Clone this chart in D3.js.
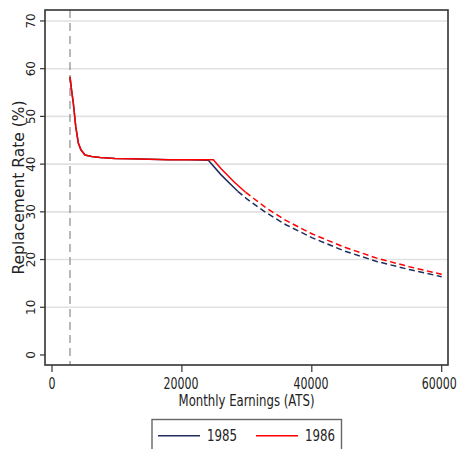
<!DOCTYPE html>
<html>
<head>
<meta charset="utf-8">
<script src="https://cdn.jsdelivr.net/npm/d3@7"></script>
<style>
  html, body { margin: 0; padding: 0; background: #fff; }
  svg { display: block; }
</style>
</head>
<body>
<svg id="chart" width="459" height="449"></svg>
<script>
// ---- data ----
const seriesNames = ["1985", "1986"];
const earnings1985 = [2770, 3000, 3280, 3650, 4050, 4450, 5080, 6100, 7400, 9700, 12000, 15000, 18000, 21000, 24070, 26000, 28000, 28600, 30000, 33000, 36000, 40000, 45000, 50000, 55000, 60000];
const rate1985     = [58.3, 55.6, 52.8, 47.9, 44.4, 43.0, 41.9, 41.6, 41.4, 41.2, 41.1, 41.0, 40.9, 40.9, 40.8, 37.8, 35.1, 34.3, 32.7, 29.8, 27.3, 24.6, 21.8, 19.6, 17.9, 16.4];
const earnings1986 = [2770, 3000, 3280, 3650, 4050, 4450, 5080, 6100, 7400, 9700, 12000, 15000, 18000, 21000, 24840, 26000, 28000, 29800, 30000, 33000, 36000, 40000, 45000, 50000, 55000, 60000];
const rate1986     = [58.3, 55.6, 52.8, 47.9, 44.4, 43.0, 41.9, 41.6, 41.4, 41.2, 41.1, 41.0, 40.9, 40.9, 40.9, 39.1, 36.3, 34.1, 33.9, 30.8, 28.2, 25.4, 22.6, 20.3, 18.5, 16.9];
const dashedFrom   = [28600, 29800];     // earnings beyond which each series is drawn dashed
const thresholdEarnings = 2770;           // vertical dashed reference line
const xTicks = [0, 20000, 40000, 60000];
const yTicks = [0, 10, 20, 30, 40, 50, 60, 70];
const xTitle = "Monthly Earnings (ATS)";
const yTitle = "Replacement Rate (%)";

// ---- layout ----
const colors = ["#1f2d5c", "#ff0000"];
const plot = { left: 45, right: 448, top: 10, bottom: 365 };
const svg = d3.select("#chart");
const narrowFont = "DejaVu Sans Condensed, DejaVu Sans, sans-serif";

const x = d3.scaleLinear().domain([-1080, 60970]).range([plot.left, plot.right]);
const y = d3.scaleLinear().domain([-2.1, 72.3]).range([plot.bottom, plot.top]);

// draws a horizontally-compressed text whose rendered width equals targetW
function narrowText(parent, str, cx, baseY, size, targetW, anchor) {
  const t = parent.append("text")
    .attr("font-family", narrowFont)
    .attr("font-stretch", "condensed")
    .attr("font-size", size)
    .attr("fill", "#222")
    .attr("text-anchor", anchor)
    .text(str);
  const natural = t.node().getComputedTextLength() || targetW;
  const sx = targetW / natural;
  t.attr("transform", `translate(${cx},${baseY}) scale(${sx},1)`);
  return t;
}

// gridlines
svg.append("g").selectAll("line")
  .data(yTicks.filter(d => d > 0))
  .join("line")
  .attr("x1", plot.left).attr("x2", plot.right)
  .attr("y1", d => y(d)).attr("y2", d => y(d))
  .attr("stroke", "#e1e1e1").attr("stroke-width", 1.6);

// threshold dashed line
svg.append("line")
  .attr("x1", x(thresholdEarnings)).attr("x2", x(thresholdEarnings))
  .attr("y1", plot.top).attr("y2", plot.bottom)
  .attr("stroke", "#808080").attr("stroke-width", 1.1)
  .attr("stroke-dasharray", "8,5");

// series
const series = [
  { name: seriesNames[0], xs: earnings1985, ys: rate1985, cut: dashedFrom[0], color: colors[0] },
  { name: seriesNames[1], xs: earnings1986, ys: rate1986, cut: dashedFrom[1], color: colors[1] }
];
const line = d3.line().x(d => x(d[0])).y(d => y(d[1]));
series.forEach(s => {
  const pts = s.xs.map((v, i) => [v, s.ys[i]]);
  const solid = pts.filter(p => p[0] <= s.cut);
  const dashed = pts.filter(p => p[0] >= s.cut);
  svg.append("path").datum(solid).attr("d", line)
    .attr("fill", "none").attr("stroke", s.color).attr("stroke-width", 1.5);
  svg.append("path").datum(dashed).attr("d", line)
    .attr("fill", "none").attr("stroke", s.color).attr("stroke-width", 1.5)
    .attr("stroke-dasharray", "6,3.5");
});

// frame
svg.append("rect")
  .attr("x", plot.left).attr("y", plot.top)
  .attr("width", plot.right - plot.left).attr("height", plot.bottom - plot.top)
  .attr("fill", "none").attr("stroke", "#333").attr("stroke-width", 1.6);

// y axis ticks + labels (rotated)
const yAxisG = svg.append("g");
yAxisG.selectAll("line").data(yTicks).join("line")
  .attr("x1", plot.left - 5).attr("x2", plot.left)
  .attr("y1", d => y(d)).attr("y2", d => y(d))
  .attr("stroke", "#333").attr("stroke-width", 1.2);
yAxisG.selectAll("text").data(yTicks).join("text")
  .attr("transform", d => `translate(35,${y(d)}) rotate(-90)`)
  .attr("text-anchor", "middle")
  .attr("font-family", "DejaVu Sans, sans-serif")
  .attr("font-size", 12)
  .attr("fill", "#222")
  .text(d => d);

// y title
svg.append("text")
  .attr("transform", `translate(23.5,${(plot.top + plot.bottom) / 2}) rotate(-90)`)
  .attr("text-anchor", "middle")
  .attr("font-family", "DejaVu Sans, sans-serif")
  .attr("font-size", 15.5)
  .attr("fill", "#222")
  .text(yTitle);

// x axis ticks + labels
const xAxisG = svg.append("g");
xAxisG.selectAll("line").data(xTicks).join("line")
  .attr("x1", d => x(d)).attr("x2", d => x(d))
  .attr("y1", plot.bottom).attr("y2", plot.bottom + 7)
  .attr("stroke", "#333").attr("stroke-width", 1.2);
const lastTick = xTicks[xTicks.length - 1];
xTicks.forEach(d => {
  const s = String(d);
  const cx = x(d) - (d === lastTick ? 2.5 : (s.length > 1 ? 0.8 : 0));
  narrowText(xAxisG, s, cx, 388.5, 15.5, s.length * 7.0, "middle");
});

// x title
narrowText(svg, xTitle, (plot.left + plot.right) / 2, 406, 15, 136, "middle");

// legend
const lg = svg.append("g");
lg.append("rect")
  .attr("x", 152).attr("y", 419.5).attr("width", 189.5).attr("height", 40)
  .attr("fill", "#fff").attr("stroke", "#666").attr("stroke-width", 1.4);
const legendItems = [
  { x0: 158, x1: 200, tx: 207, name: seriesNames[0], color: colors[0] },
  { x0: 256, x1: 298, tx: 305, name: seriesNames[1], color: colors[1] }
];
legendItems.forEach(it => {
  lg.append("line")
    .attr("x1", it.x0).attr("x2", it.x1).attr("y1", 435.7).attr("y2", 435.7)
    .attr("stroke", it.color).attr("stroke-width", 1.5);
  narrowText(lg, it.name, it.tx, 441, 15.5, 30, "start");
});
</script>
</body>
</html>
